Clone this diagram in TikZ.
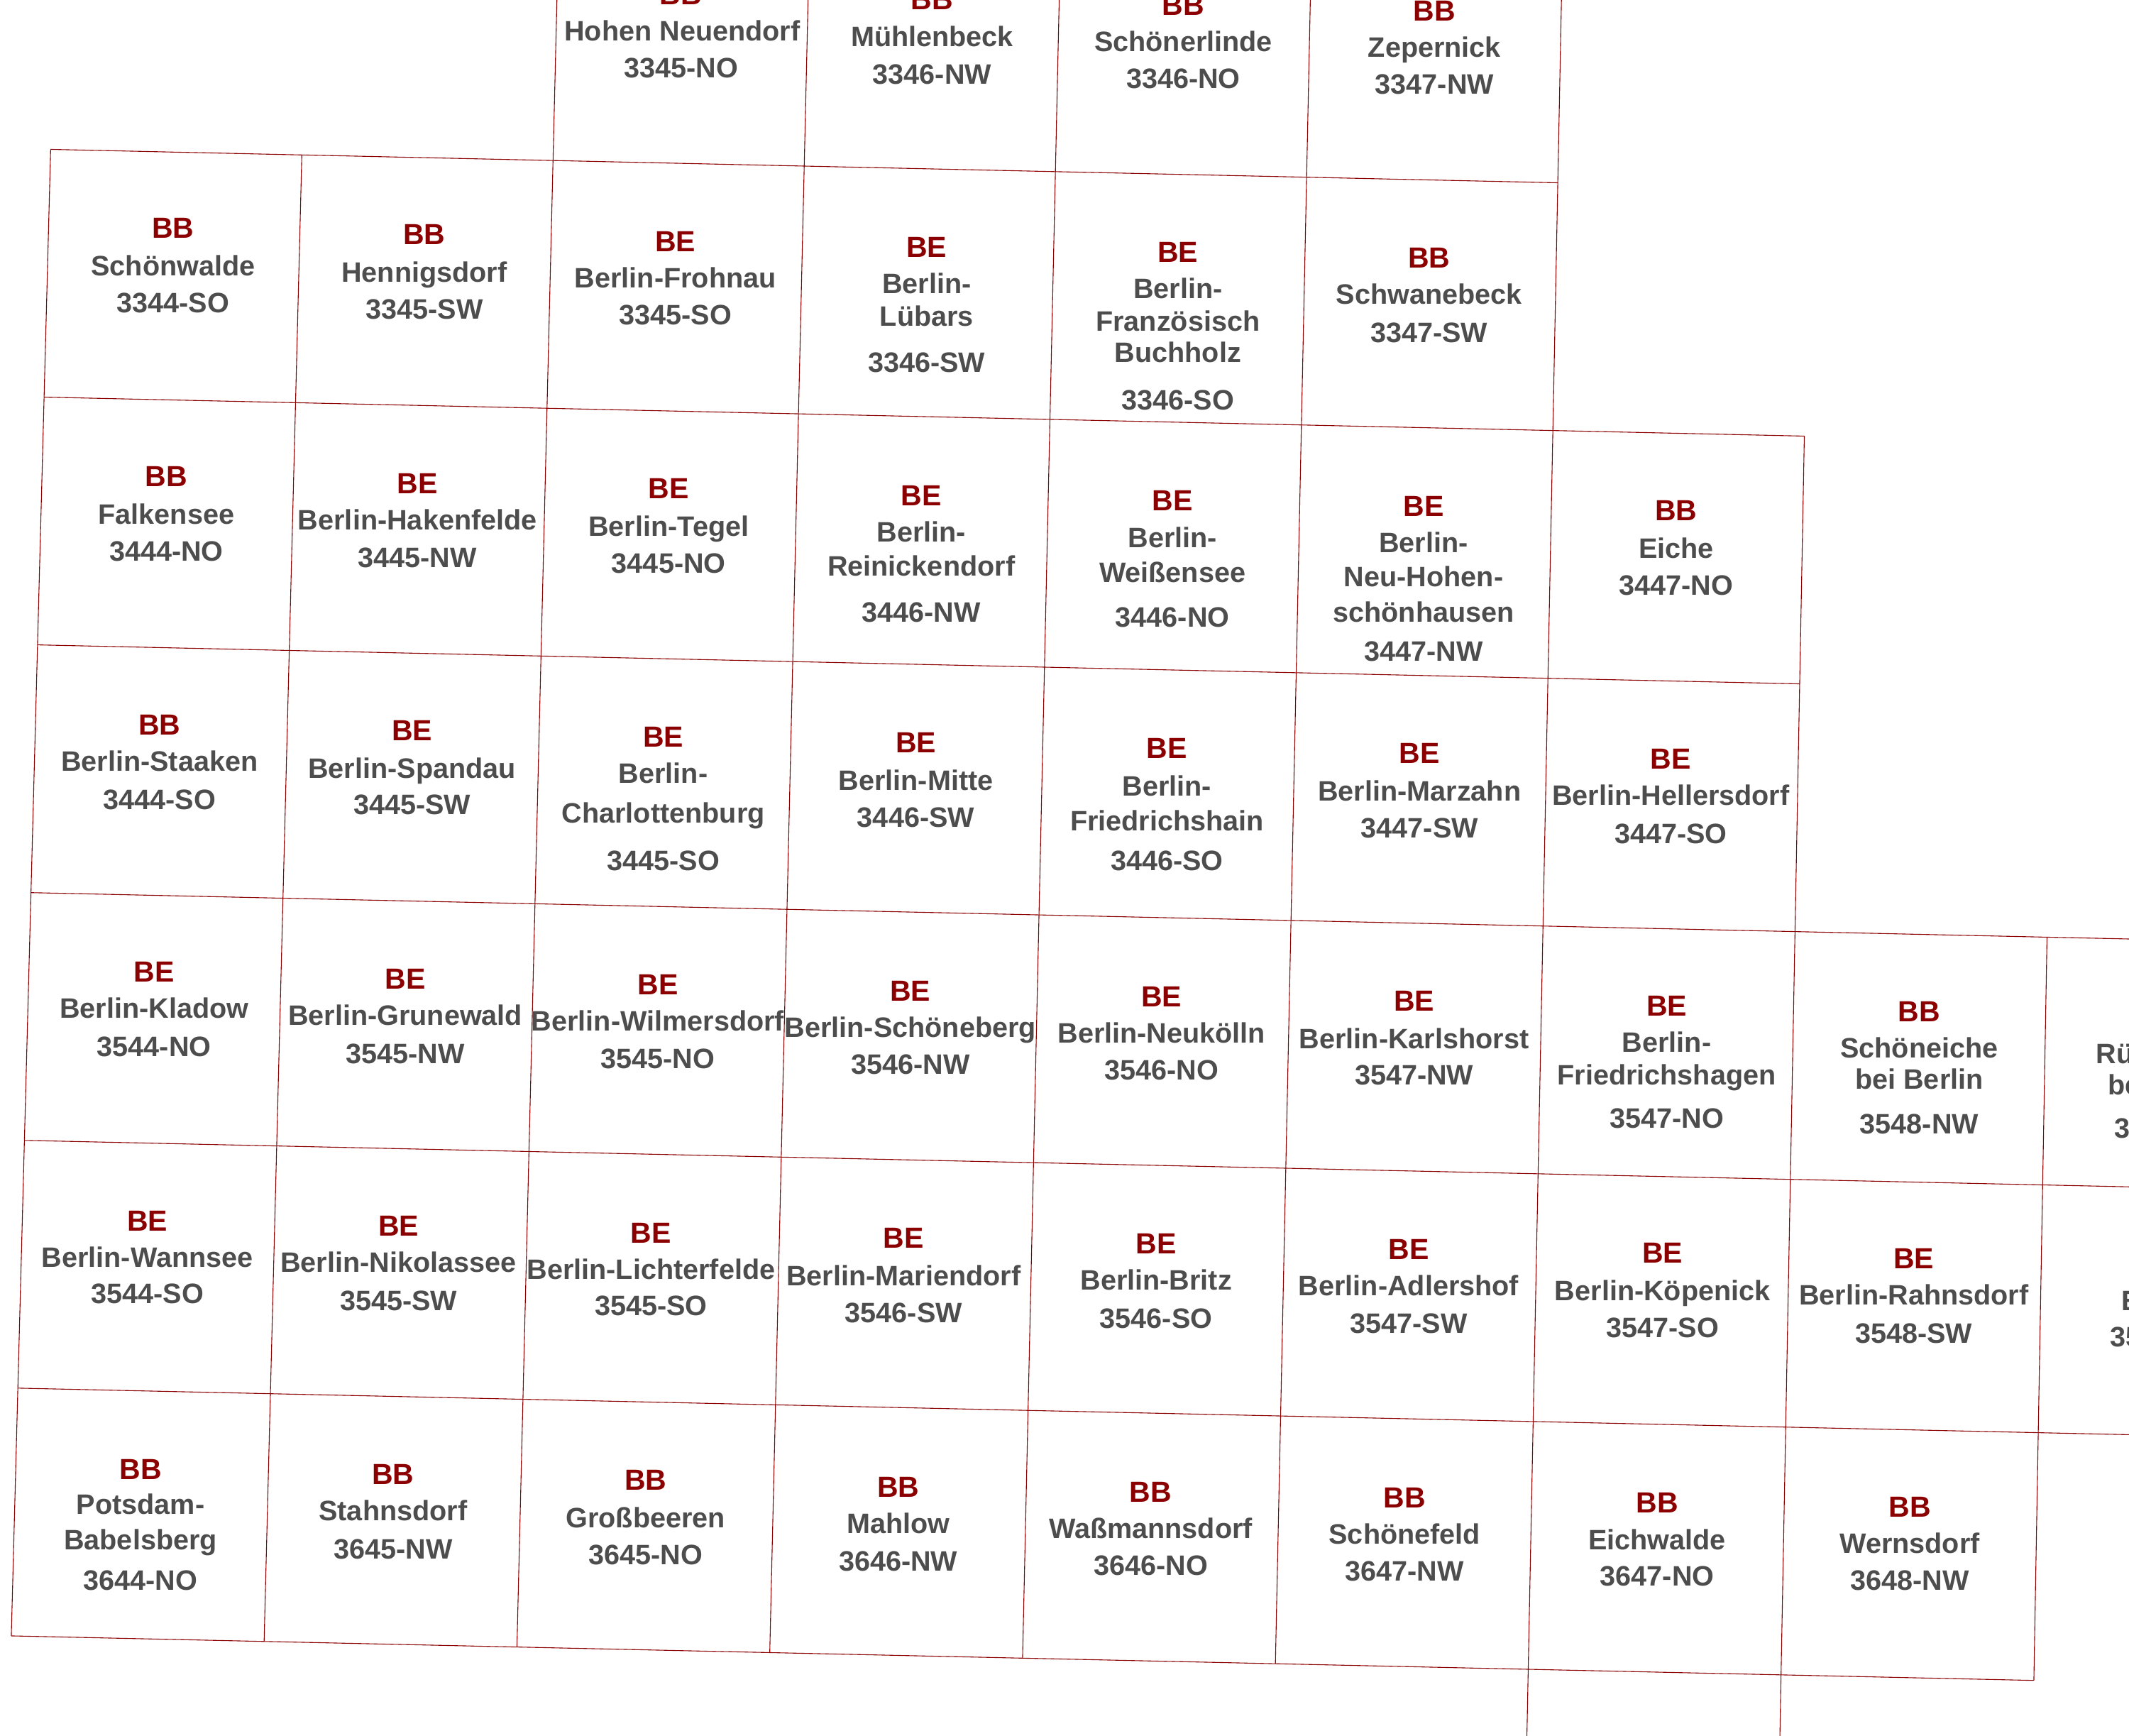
\documentclass[tikz,border=0pt]{standalone}
\usepackage{fontspec}
\setmainfont{Liberation Sans}[BoldFont={Liberation Sans Bold}]
\definecolor{gridred}{HTML}{8B0000}
\definecolor{labred}{HTML}{8B0000}
\definecolor{labgray}{HTML}{4D4D4D}
\tikzset{
  gridline/.style={draw=gridred,line width=1.1pt,line cap=butt},
  labbase/.style={inner sep=0pt,outer sep=0pt,anchor=base},
  labstate/.style={labbase,text=labred,font=\fontsize{41}{41}\selectfont\bfseries},
  labname/.style={labbase,text=labgray,font=\fontsize{39.6}{40}\selectfont\bfseries},
}
\newcommand\SL[4]{\node[labstate] (#1) at (#2+0.5,#3+7.3) {#4};}
\newcommand\NL[4]{\node[labname] (#1) at (#2+0.5,#3+7.0) {#4};}
\begin{document}
\begin{tikzpicture}[x=1.91327pt,y=-1.91327pt]
\useasboundingbox (0,0) rectangle (1568,1278.4);
\clip (0,0) rectangle (1568,1278.4);
\fill[white] (0,0) rectangle (1568,1278.4);
% lattice corners of the map sheets
\foreach \i in {0,...,9}{
  \foreach \j in {-1,...,7}{
    \pgfmathsetmacro{\gx}{37.3+\i*(185+\j*0.2)-\j*4.83}
    \pgfmathsetmacro{\gy}{110+\i*4.1+\j*182.45}
    \coordinate (g\i-\j) at (\gx,\gy);
  }
}
% horizontal lines
\draw[gridline] (g0-0)--(g6-0);
\draw[gridline] (g0-1)--(g7-1);
\draw[gridline] (g0-2)--(g7-2);
\draw[gridline] (g0-3)--(g9-3);
\draw[gridline] (g0-4)--(g9-4);
\draw[gridline] (g0-5)--(g9-5);
\draw[gridline] (g0-6)--(g8-6);
% vertical lines
\draw[gridline] (g0-0)--(g0-6);
\draw[gridline] (g1-0)--(g1-6);
\draw[gridline] (g2--1)--(g2-6);
\draw[gridline] (g3--1)--(g3-6);
\draw[gridline] (g4--1)--(g4-6);
\draw[gridline] (g5--1)--(g5-6);
\draw[gridline] (g6--1)--(g6-7);
\draw[gridline] (g7-1)--(g7-7);
\draw[gridline] (g8-3)--(g8-6);
% row -1
\SL{a2s}{501}{-4}{BB}\NL{a2n}{502}{23}{Hohen Neuendorf}\NL{a2c}{501}{50}{3345-NO}
\SL{a3s}{686}{0}{BB}\NL{a3n}{686}{27}{Mühlenbeck}\NL{a3c}{686}{55}{3346-NW}
\SL{a4s}{871}{4}{BB}\NL{a4n}{871}{31}{Schönerlinde}\NL{a4c}{871}{58}{3346-NO}
\SL{a5s}{1056}{8}{BB}\NL{a5n}{1056}{35}{Zepernick}\NL{a5c}{1056}{62}{3347-NW}
% row 0
\SL{b0s}{127}{168}{BB}\NL{b0n}{127}{196}{Schönwalde}\NL{b0c}{127}{223}{3344-SO}
\SL{b1s}{312}{173}{BB}\NL{b1n}{312}{201}{Hennigsdorf}\NL{b1c}{312}{228}{3345-SW}
\SL{b2s}{497}{178}{BE}\NL{b2n}{497}{205}{Berlin-Frohnau}\NL{b2c}{497}{232}{3345-SO}
\SL{b3s}{682}{182}{BE}\NL{b3n}{682}{209}{Berlin-}\NL{b3m}{682}{233}{Lübars}\NL{b3c}{682}{267}{3346-SW}
\SL{b4s}{867}{186}{BE}\NL{b4n}{867}{213}{Berlin-}\NL{b4m}{867}{237}{Französisch}\NL{b4o}{867}{260}{Buchholz}\NL{b4c}{867}{295}{3346-SO}
\SL{b5s}{1052}{190}{BB}\NL{b5n}{1052}{217}{Schwanebeck}\NL{b5c}{1052}{245}{3347-SW}
% row 1
\SL{c0s}{122}{351}{BB}\NL{c0n}{122}{379}{Falkensee}\NL{c0c}{122}{406}{3444-NO}
\SL{c1s}{307}{356}{BE}\NL{c1n}{307}{383}{Berlin-Hakenfelde}\NL{c1c}{307}{411}{3445-NW}
\SL{c2s}{492}{360}{BE}\NL{c2n}{492}{388}{Berlin-Tegel}\NL{c2c}{492}{415}{3445-NO}
\SL{c3s}{678}{365}{BE}\NL{c3n}{678}{392}{Berlin-}\NL{c3m}{678}{417}{Reinickendorf}\NL{c3c}{678}{451}{3446-NW}
\SL{c4s}{863}{369}{BE}\NL{c4n}{863}{396}{Berlin-}\NL{c4m}{863}{422}{Weißensee}\NL{c4c}{863}{455}{3446-NO}
\SL{c5s}{1048}{373}{BE}\NL{c5n}{1048}{400}{Berlin-}\NL{c5m}{1048}{425}{Neu-Hohen-}\NL{c5o}{1048}{451}{schönhausen}\NL{c5c}{1048}{480}{3447-NW}
\SL{c6s}{1234}{376}{BB}\NL{c6n}{1234}{404}{Eiche}\NL{c6c}{1234}{431}{3447-NO}
% row 2
\SL{d0s}{117}{534}{BB}\NL{d0n}{117}{561}{Berlin-Staaken}\NL{d0c}{117}{589}{3444-SO}
\SL{d1s}{303}{538}{BE}\NL{d1n}{303}{566}{Berlin-Spandau}\NL{d1c}{303}{593}{3445-SW}
\SL{d2s}{488}{543}{BE}\NL{d2n}{488}{570}{Berlin-}\NL{d2m}{488}{599}{Charlottenburg}\NL{d2c}{488}{634}{3445-SO}
\SL{d3s}{674}{547}{BE}\NL{d3n}{674}{575}{Berlin-Mitte}\NL{d3c}{674}{602}{3446-SW}
\SL{d4s}{859}{551}{BE}\NL{d4n}{859}{579}{Berlin-}\NL{d4m}{859}{605}{Friedrichshain}\NL{d4c}{859}{634}{3446-SO}
\SL{d5s}{1045}{555}{BE}\NL{d5n}{1045}{583}{Berlin-Marzahn}\NL{d5c}{1045}{610}{3447-SW}
\SL{d6s}{1230}{559}{BE}\NL{d6n}{1230}{586}{Berlin-Hellersdorf}\NL{d6c}{1230}{614}{3447-SO}
% row 3
\SL{e0s}{113}{716}{BE}\NL{e0n}{113}{743}{Berlin-Kladow}\NL{e0c}{113}{771}{3544-NO}
\SL{e1s}{298}{721}{BE}\NL{e1n}{298}{748}{Berlin-Grunewald}\NL{e1c}{298}{776}{3545-NW}
\SL{e2s}{484}{725}{BE}\NL{e2n}{484}{752}{Berlin-Wilmersdorf}\NL{e2c}{484}{780}{3545-NO}
\SL{e3s}{670}{730}{BE}\NL{e3n}{670}{757}{Berlin-Schöneberg}\NL{e3c}{670}{784}{3546-NW}
\SL{e4s}{855}{734}{BE}\NL{e4n}{855}{761}{Berlin-Neukölln}\NL{e4c}{855}{788}{3546-NO}
\SL{e5s}{1041}{737}{BE}\NL{e5n}{1041}{765}{Berlin-Karlshorst}\NL{e5c}{1041}{792}{3547-NW}
\SL{e6s}{1227}{741}{BE}\NL{e6n}{1227}{768}{Berlin-}\NL{e6m}{1227}{792}{Friedrichshagen}\NL{e6c}{1227}{824}{3547-NO}
\SL{e7s}{1413}{745}{BB}\NL{e7n}{1413}{772}{Schöneiche}\NL{e7m}{1413}{795}{bei Berlin}\NL{e7c}{1413}{828}{3548-NW}
\NL{e8n}{1599}{776}{Rüdersdorf}\NL{e8m}{1599}{799}{bei Berlin}\NL{e8c}{1599}{831}{3548-NO}
% row 4
\SL{f0s}{108}{899}{BE}\NL{f0n}{108}{926}{Berlin-Wannsee}\NL{f0c}{108}{953}{3544-SO}
\SL{f1s}{293}{903}{BE}\NL{f1n}{293}{930}{Berlin-Nikolassee}\NL{f1c}{293}{958}{3545-SW}
\SL{f2s}{479}{908}{BE}\NL{f2n}{479}{935}{Berlin-Lichterfelde}\NL{f2c}{479}{962}{3545-SO}
\SL{f3s}{665}{912}{BE}\NL{f3n}{665}{940}{Berlin-Mariendorf}\NL{f3c}{665}{967}{3546-SW}
\SL{f4s}{851}{916}{BE}\NL{f4n}{851}{943}{Berlin-Britz}\NL{f4c}{851}{971}{3546-SO}
\SL{f5s}{1037}{920}{BE}\NL{f5n}{1037}{947}{Berlin-Adlershof}\NL{f5c}{1037}{975}{3547-SW}
\SL{f6s}{1224}{923}{BE}\NL{f6n}{1224}{951}{Berlin-Köpenick}\NL{f6c}{1224}{978}{3547-SO}
\SL{f7s}{1409}{927}{BE}\NL{f7n}{1409}{954}{Berlin-Rahnsdorf}\NL{f7c}{1409}{982}{3548-SW}
\NL{f8n}{1595}{958}{Erkner}\NL{f8c}{1595}{985}{3548-SO}
% row 5
\SL{h0s}{103}{1082}{BB}\NL{h0n}{103}{1108}{Potsdam-}\NL{h0m}{103}{1134}{Babelsberg}\NL{h0c}{103}{1164}{3644-NO}
\SL{h1s}{289}{1086}{BB}\NL{h1n}{289}{1113}{Stahnsdorf}\NL{h1c}{289}{1141}{3645-NW}
\SL{h2s}{475}{1090}{BB}\NL{h2n}{475}{1118}{Großbeeren}\NL{h2c}{475}{1145}{3645-NO}
\SL{h3s}{661}{1095}{BB}\NL{h3n}{661}{1122}{Mahlow}\NL{h3c}{661}{1150}{3646-NW}
\SL{h4s}{847}{1099}{BB}\NL{h4n}{847}{1126}{Waßmannsdorf}\NL{h4c}{847}{1153}{3646-NO}
\SL{h5s}{1034}{1103}{BB}\NL{h5n}{1034}{1130}{Schönefeld}\NL{h5c}{1034}{1157}{3647-NW}
\SL{h6s}{1220}{1107}{BB}\NL{h6n}{1220}{1134}{Eichwalde}\NL{h6c}{1220}{1161}{3647-NO}
\SL{h7s}{1406}{1110}{BB}\NL{h7n}{1406}{1137}{Wernsdorf}\NL{h7c}{1406}{1164}{3648-NW}
\end{tikzpicture}
\end{document}
